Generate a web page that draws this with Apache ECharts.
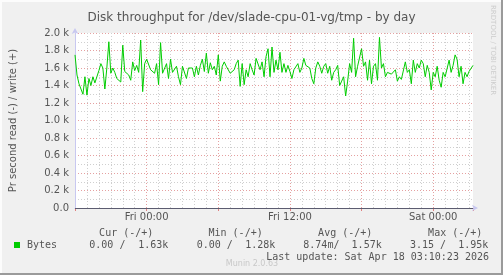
<!DOCTYPE html>
<html>
<head>
<meta charset="utf-8">
<script src="https://cdn.jsdelivr.net/npm/echarts@6/dist/echarts.min.js"></script>
<style>html,body{margin:0;padding:0;background:#f0f0f0;}#c{width:503px;height:275px;}</style>
</head>
<body>
<div id="c"></div>
<script>
// Hours relative to Fri 00:00; samples every 10 minutes
var startHour = -6;
var stepHour = 1 / 6;
var endHour = 27.333;
// write bytes per second (k)
var writeK = [
1.75,1.52,1.42,1.40,1.30,1.50,1.29,1.48,1.40,1.50,1.43,1.44,1.57,1.65,1.60,1.36,1.60,1.90,1.54,1.60,
1.55,1.48,1.50,1.44,1.86,1.56,1.57,1.52,1.46,1.67,1.57,1.63,1.55,1.92,1.33,1.65,1.70,1.68,1.58,1.60,
1.54,1.65,1.41,1.89,1.54,1.52,1.65,1.48,1.70,1.55,1.54,1.62,1.50,1.41,1.62,1.60,1.48,1.60,1.62,1.60,
1.50,1.62,1.52,1.63,1.70,1.56,1.77,1.54,1.66,1.58,1.62,1.52,1.75,1.45,1.62,1.67,1.62,1.60,1.54,1.52,
1.58,1.65,1.69,1.39,1.65,1.41,1.58,1.50,1.65,1.58,1.52,1.71,1.69,1.58,1.67,1.50,1.73,1.82,1.50,1.84,
1.55,1.69,1.58,1.78,1.55,1.65,1.55,1.63,1.56,1.48,1.58,1.60,1.65,1.55,1.60,1.71,1.63,1.62,1.60,1.48,
1.42,1.60,1.67,1.62,1.54,1.62,1.65,1.54,1.62,1.46,1.55,1.58,1.63,1.40,1.45,1.50,1.28,1.45,1.65,1.55,
1.94,1.50,1.62,1.60,1.82,1.62,1.67,1.46,1.69,1.42,1.62,1.65,1.46,1.95,1.60,1.65,1.50,1.55,1.54,1.53,
1.55,1.58,1.45,1.50,1.47,1.46,1.67,1.55,1.58,1.42,1.69,1.55,1.65,1.60,1.69,1.65,1.50,1.63,1.55,1.35,
1.55,1.50,1.62,1.46,1.38,1.55,1.50,1.50,1.69,1.55,1.63,1.75,1.70,1.50,1.62,1.42,1.55,1.50,1.56,1.55,
1.63
];
var dayNames = ['Fri','Fri','Sat'];
var title = 'Disk throughput for /dev/slade-cpu-01-vg/tmp - by day';
var yName = 'Pr second read (-) / write (+)';
var seriesName = 'Bytes';
var statHeaders = ['Cur (-/+)','Min (-/+)','Avg (-/+)','Max (-/+)'];
var statRead = ['0.00 /','0.00 /','8.74m/','3.15 /'];
var statWrite = ['1.63k','1.28k','1.57k','1.95k'];
var lastUpdate = 'Last update: Sat Apr 18 03:10:23 2026';

var data = writeK.map(function (v, i) { return [startHour + i * stepHour, v * 1000]; });

var mono = 'DejaVu Sans Mono';
var sans = 'DejaVu Sans';
var txtColor = '#555';
var graphics = [
  {type:'rect', shape:{x:0,y:0,width:503,height:2}, style:{fill:'#fcfcfc'}, silent:true},
  {type:'rect', shape:{x:0,y:0,width:2,height:275}, style:{fill:'#fcfcfc'}, silent:true},
  {type:'rect', shape:{x:501,y:0,width:2,height:275}, style:{fill:'#9a9a9a'}, silent:true},
  {type:'rect', shape:{x:0,y:273,width:503,height:2}, style:{fill:'#9a9a9a'}, silent:true},
  {type:'text', x:493, y:5, rotation:-Math.PI/2, style:{text:'RRDTOOL / TOBI OETIKER', fill:'#cccccc', font:'7px ' + sans, textAlign:'left', textVerticalAlign:'middle'}, silent:true},
  {type:'text', x:252, y:264, style:{text:'Munin 2.0.63', fill:'#c8c8c8', font:'8px ' + sans, textAlign:'center', textVerticalAlign:'middle'}, silent:true},
  {type:'text', x:489, y:257, style:{text:lastUpdate, fill:txtColor, font:'10px ' + mono, textAlign:'right', textVerticalAlign:'middle'}, silent:true}
];
var headerRight = [153.3, 262.7, 372.3, 482.3];
var readLeft = [89.3, 196.7, 303.3, 410];
var writeRight = [168.3, 275.3, 381.7, 488.3];
for (var k = 0; k < 4; k++) {
  graphics.push({type:'text', x:headerRight[k], y:233, style:{text:statHeaders[k], fill:txtColor, font:'10px ' + mono, textAlign:'right', textVerticalAlign:'middle'}, silent:true});
  graphics.push({type:'text', x:readLeft[k], y:245.5, style:{text:statRead[k], fill:txtColor, font:'10px ' + mono, textAlign:'left', textVerticalAlign:'middle'}, silent:true});
  graphics.push({type:'text', x:writeRight[k], y:245.5, style:{text:statWrite[k], fill:txtColor, font:'10px ' + mono, textAlign:'right', textVerticalAlign:'middle'}, silent:true});
}

var chart = echarts.init(document.getElementById('c'), null, {renderer:'canvas'});
chart.setOption({
  backgroundColor:'#f0f0f0',
  animation:false,
  title:{text:title, left:'center', top:7, textStyle:{fontFamily:sans, fontSize:12, fontWeight:'normal', color:txtColor}},
  legend:{data:[seriesName], left:14, top:240, icon:'rect', itemWidth:6, itemHeight:6, itemGap:4, padding:0,
    textStyle:{fontFamily:mono, fontSize:10, color:txtColor, padding:[0,0,0,2]}},
  grid:{left:73, top:33, width:400, height:175, show:true, backgroundColor:'#ffffff', borderWidth:0, containLabel:false},
  xAxis:[
    {type:'value', min:startHour, max:endHour, interval:1,
      axisLine:{show:false, onZero:false}, axisTick:{show:false}, axisLabel:{show:false},
      splitLine:{show:true, showMinLine:false, showMaxLine:false, lineStyle:{color:'#cfcfcf', type:[1,2], width:1}}},
    {type:'value', min:startHour, max:endHour, interval:6, position:'bottom',
      axisLine:{show:true, onZero:false, symbol:['none','arrow'], symbolSize:[5,6], symbolOffset:[0,5], lineStyle:{color:'#c8c8f0', width:1}},
      axisTick:{show:true, inside:false, length:3, lineStyle:{color:'#e08080'}},
      axisLabel:{show:true, margin:4, color:txtColor, fontFamily:sans, fontSize:10,
        formatter:function (v) {
          var r = Math.round(v);
          if (Math.abs(v - r) > 1e-6 || r % 12 !== 0 || r < 0) return '';
          return dayNames[r / 12] + ' ' + (r % 24 === 0 ? '00' : '12') + ':00';
        }},
      splitLine:{show:true, showMinLine:false, showMaxLine:false, lineStyle:{color:'#e5a0a0', type:[1,2], width:1}}}
  ],
  yAxis:{type:'value', min:0, max:2000, interval:200,
    name:yName, nameLocation:'middle', nameRotate:90, nameGap:57,
    nameTextStyle:{fontFamily:sans, fontSize:10, color:txtColor},
    axisLine:{show:true, onZero:false, symbol:['none','arrow'], symbolSize:[5,6], symbolOffset:[0,5], lineStyle:{color:'#c8c8f0', width:1}},
    axisTick:{show:false},
    axisLabel:{color:txtColor, fontFamily:sans, fontSize:10, margin:6,
      formatter:function (v) { return v === 0 ? '0.0' : (v / 1000).toFixed(1) + ' k'; }},
    splitLine:{show:true, showMinLine:false, lineStyle:{color:'#e5a0a0', type:[1,2], width:1}},
    minorTick:{show:false, splitNumber:2},
    minorSplitLine:{show:true, lineStyle:{color:'#cfcfcf', type:[1,2], width:1}}
  },
  series:[{
    name:seriesName, type:'line', xAxisIndex:0, data:data, showSymbol:false, symbol:'none',
    lineStyle:{color:'#00cc00', width:1}, itemStyle:{color:'#00cc00'},
    markLine:{silent:true, symbol:'none', label:{show:false}, lineStyle:{color:'#5c5c70', type:'solid', width:1},
      data:[{yAxis:0}]}
  }],
  graphic:graphics
});
</script>
</body>
</html>
